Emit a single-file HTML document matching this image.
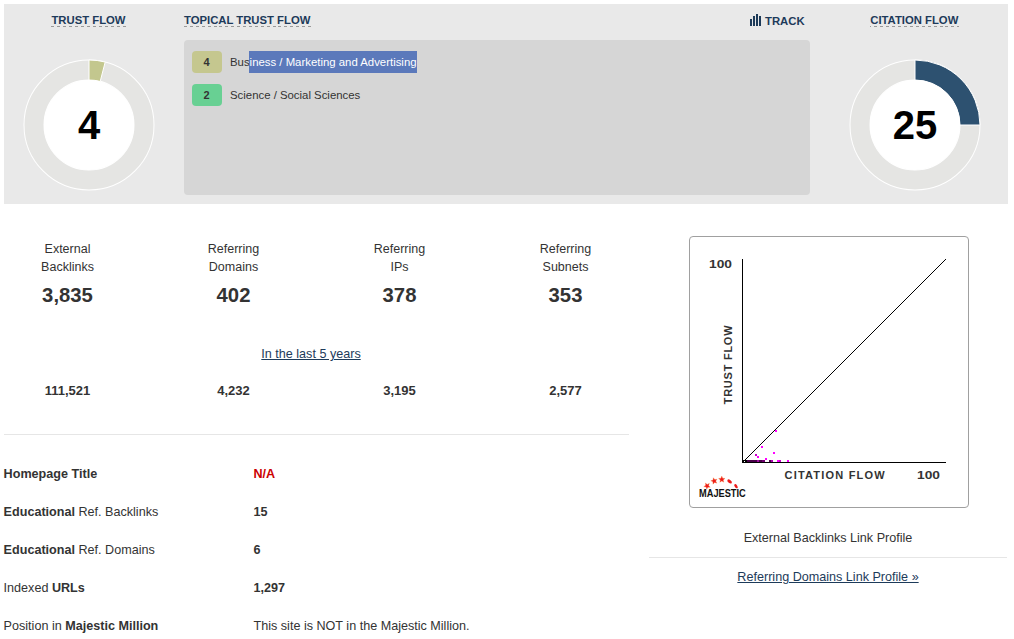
<!DOCTYPE html>
<html><head><meta charset="utf-8">
<style>
html,body{margin:0;padding:0;background:#fff;}
body{width:1014px;height:639px;overflow:hidden;position:relative;font-family:"Liberation Sans",sans-serif;color:#333;}
.a{position:absolute;white-space:nowrap;}
.panel{left:4px;top:4px;width:1004px;height:200px;background:#e9e9e9;}
.hd{font-weight:bold;font-size:11.3px;line-height:11.3px;color:#1d3a5a;}

.ttf{left:184px;top:40px;width:626px;height:155px;background:#d6d6d6;border-radius:4px;}
.badge{width:29.2px;padding-right:0.8px;height:22px;border-radius:4px;font-weight:bold;font-size:11px;line-height:22px;text-align:center;color:#333;}
.topic{font-size:11.38px;line-height:11.3px;color:#333;}
.sel{background:#5b79bb;color:#fff;display:inline-block;height:22px;line-height:22px;vertical-align:top;margin-top:-5.5px;padding-right:0.3px;margin-left:-1px;padding-left:1px;}
.big{font-weight:bold;font-size:40px;line-height:40px;color:#000;text-align:center;}
.lbl{font-size:12.5px;line-height:18px;text-align:center;width:166px;}
.num{font-weight:bold;font-size:20.3px;line-height:20px;text-align:center;width:166px;}
.num2{font-weight:bold;font-size:13px;line-height:13px;text-align:center;width:166px;}
.row{font-size:12.6px;line-height:12.6px;}
.lnk{color:#1d3b5a;text-decoration:underline;}
.ct{font-weight:bold;font-size:11px;line-height:11px;color:#333;letter-spacing:1px;}
.mj{font-weight:bold;font-size:10.4px;line-height:10px;color:#111;letter-spacing:0;transform:scaleX(0.89);transform-origin:0 0;}
.sep{height:1px;background:#e6e6e6;}
</style></head><body>
<div class="a panel"></div>

<!-- headers -->
<svg class="a" style="left:0;top:0;" width="1014" height="30" fill="#999"><rect x="51" y="26" width="3" height="1"/><rect x="57" y="26" width="3" height="1"/><rect x="63" y="26" width="3" height="1"/><rect x="69" y="26" width="3" height="1"/><rect x="75" y="26" width="3" height="1"/><rect x="81" y="26" width="3" height="1"/><rect x="87" y="26" width="3" height="1"/><rect x="93" y="26" width="3" height="1"/><rect x="99" y="26" width="3" height="1"/><rect x="105" y="26" width="3" height="1"/><rect x="111" y="26" width="3" height="1"/><rect x="117" y="26" width="3" height="1"/><rect x="123" y="26" width="3" height="1"/><rect x="184" y="26" width="3" height="1"/><rect x="190" y="26" width="3" height="1"/><rect x="196" y="26" width="3" height="1"/><rect x="202" y="26" width="3" height="1"/><rect x="208" y="26" width="3" height="1"/><rect x="214" y="26" width="3" height="1"/><rect x="219" y="26" width="3" height="1"/><rect x="225" y="26" width="3" height="1"/><rect x="231" y="26" width="3" height="1"/><rect x="237" y="26" width="3" height="1"/><rect x="243" y="26" width="3" height="1"/><rect x="249" y="26" width="3" height="1"/><rect x="255" y="26" width="3" height="1"/><rect x="261" y="26" width="3" height="1"/><rect x="267" y="26" width="3" height="1"/><rect x="273" y="26" width="3" height="1"/><rect x="278" y="26" width="3" height="1"/><rect x="284" y="26" width="3" height="1"/><rect x="290" y="26" width="3" height="1"/><rect x="296" y="26" width="3" height="1"/><rect x="302" y="26" width="3" height="1"/><rect x="308" y="26" width="3" height="1"/><rect x="870" y="26" width="1" height="1"/><rect x="874" y="26" width="3" height="1"/><rect x="880" y="26" width="3" height="1"/><rect x="886" y="26" width="3" height="1"/><rect x="892" y="26" width="3" height="1"/><rect x="898" y="26" width="3" height="1"/><rect x="904" y="26" width="3" height="1"/><rect x="910" y="26" width="3" height="1"/><rect x="916" y="26" width="3" height="1"/><rect x="922" y="26" width="3" height="1"/><rect x="928" y="26" width="3" height="1"/><rect x="934" y="26" width="3" height="1"/><rect x="940" y="26" width="3" height="1"/><rect x="945" y="26" width="3" height="1"/><rect x="951" y="26" width="3" height="1"/><rect x="957" y="26" width="2" height="1"/></svg>
<div class="a hd" style="left:0;width:177px;text-align:center;top:15px;"><span>TRUST FLOW</span></div>
<div class="a hd" style="left:184px;top:15px;"><span>TOPICAL TRUST FLOW</span></div>
<div class="a hd" style="left:765px;top:16px;">TRACK</div>
<svg class="a" style="left:748px;top:12px;" width="16" height="16" viewBox="0 0 16 16">
  <rect x="2" y="7" width="2" height="7" fill="#1d3a58"/>
  <rect x="5" y="4" width="2" height="10" fill="#1d3a58"/>
  <rect x="8" y="2" width="2" height="12" fill="#1d3a58"/>
  <rect x="11" y="4" width="2" height="10" fill="#1d3a58"/>
</svg>
<div class="a hd" style="left:829.3px;width:170px;text-align:center;top:15px;"><span>CITATION FLOW</span></div>

<!-- trust flow donut -->
<svg class="a" style="left:0;top:0;" width="180" height="210">
  <circle cx="89" cy="125" r="55" fill="none" stroke="#fff" stroke-width="21"/>
  <circle cx="89" cy="125" r="55" fill="none" stroke="#e5e5e3" stroke-width="19"/>
  <path d="M89,60 A65,65 0 0 1 105.2,62.05 L100.2,81.4 A45,45 0 0 0 89,80 Z" fill="#c3c78e" stroke="#fff" stroke-width="1"/>
  <circle cx="89" cy="125" r="45" fill="#fff"/>
</svg>
<div class="a big" style="left:39px;width:100px;top:105px;">4</div>

<!-- citation flow donut -->
<svg class="a" style="left:830px;top:0;" width="180" height="210">
  <circle cx="85" cy="125" r="55" fill="none" stroke="#fff" stroke-width="21"/>
  <circle cx="85" cy="125" r="55" fill="none" stroke="#e5e5e3" stroke-width="19"/>
  <path d="M85,60 A65,65 0 0 1 150,125 L130,125 A45,45 0 0 0 85,80 Z" fill="#2d5170" stroke="#fff" stroke-width="1"/>
  <circle cx="85" cy="125" r="45" fill="#fff"/>
</svg>
<div class="a big" style="left:865px;width:100px;top:105px;">25</div>

<!-- topical trust flow box -->
<div class="a ttf"></div>
<div class="a badge" style="left:192px;top:51px;background:#c5c78f;">4</div>
<div class="a topic" style="left:230px;top:56.5px;">Bus<span class="sel">iness / Marketing and Advertising</span></div>
<div class="a badge" style="left:192px;top:84px;background:#68d093;">2</div>
<div class="a topic" style="left:230px;top:90.3px;">Science / Social Sciences</div>

<!-- stats -->
<div class="a lbl" style="left:-15.5px;top:240px;">External<br>Backlinks</div>
<div class="a lbl" style="left:150.5px;top:240px;">Referring<br>Domains</div>
<div class="a lbl" style="left:316.5px;top:240px;">Referring<br>IPs</div>
<div class="a lbl" style="left:482.5px;top:240px;">Referring<br>Subnets</div>

<div class="a num" style="left:-15.5px;top:284.7px;">3,835</div>
<div class="a num" style="left:150.5px;top:284.7px;">402</div>
<div class="a num" style="left:316.5px;top:284.7px;">378</div>
<div class="a num" style="left:482.5px;top:284.7px;">353</div>

<div class="a row lnk" style="left:211px;width:200px;text-align:center;top:348.4px;">In the last 5 years</div>

<div class="a num2" style="left:-15.5px;top:383.6px;">111,521</div>
<div class="a num2" style="left:150.5px;top:383.6px;">4,232</div>
<div class="a num2" style="left:316.5px;top:383.6px;">3,195</div>
<div class="a num2" style="left:482.5px;top:383.6px;">2,577</div>

<div class="a sep" style="left:4px;top:434px;width:625px;"></div>

<div class="a row" style="left:3.6px;top:467.7px;"><b>Homepage Title</b></div>
<div class="a row" style="left:253.5px;top:467.7px;color:#c00;"><b>N/A</b></div>
<div class="a row" style="left:3.6px;top:505.6px;"><b>Educational</b> Ref. Backlinks</div>
<div class="a row" style="left:253.5px;top:505.6px;"><b>15</b></div>
<div class="a row" style="left:3.6px;top:543.6px;"><b>Educational</b> Ref. Domains</div>
<div class="a row" style="left:253.5px;top:543.6px;"><b>6</b></div>
<div class="a row" style="left:3.6px;top:581.6px;">Indexed <b>URLs</b></div>
<div class="a row" style="left:253.5px;top:581.6px;"><b>1,297</b></div>
<div class="a row" style="left:3.6px;top:619.6px;">Position in <b>Majestic Million</b></div>
<div class="a row" style="left:253.5px;top:619.6px;">This site is NOT in the Majestic Million.</div>

<!-- chart -->
<div class="a" style="left:689px;top:236px;width:278px;height:270px;border:1px solid #a0a0a0;border-radius:4px;background:#fff;"></div>
<svg class="a" style="left:689px;top:236px;" width="280" height="272" viewBox="689 236 280 272" shape-rendering="crispEdges">
<rect x="742" y="259" width="1" height="204" fill="#000"/>
<rect x="742" y="462" width="204" height="1" fill="#000"/>
<path d="M743 461h1v1h-1zM744 460h1v1h-1zM745 459h1v1h-1zM746 458h1v1h-1zM747 457h1v1h-1zM748 456h1v1h-1zM749 455h1v1h-1zM750 454h1v1h-1zM751 453h1v1h-1zM752 452h1v1h-1zM753 451h1v1h-1zM754 450h1v1h-1zM755 449h1v1h-1zM756 448h1v1h-1zM757 447h1v1h-1zM758 446h1v1h-1zM759 445h1v1h-1zM760 444h1v1h-1zM761 443h1v1h-1zM762 442h1v1h-1zM763 441h1v1h-1zM764 440h1v1h-1zM765 439h1v1h-1zM766 438h1v1h-1zM767 437h1v1h-1zM768 436h1v1h-1zM769 435h1v1h-1zM770 434h1v1h-1zM771 433h1v1h-1zM772 432h1v1h-1zM773 431h1v1h-1zM774 430h1v1h-1zM775 429h1v1h-1zM776 428h1v1h-1zM777 427h1v1h-1zM778 426h1v1h-1zM779 425h1v1h-1zM780 424h1v1h-1zM781 423h1v1h-1zM782 422h1v1h-1zM783 421h1v1h-1zM784 420h1v1h-1zM785 419h1v1h-1zM786 418h1v1h-1zM787 417h1v1h-1zM788 416h1v1h-1zM789 415h1v1h-1zM790 414h1v1h-1zM791 413h1v1h-1zM792 412h1v1h-1zM793 411h1v1h-1zM794 410h1v1h-1zM795 409h1v1h-1zM796 408h1v1h-1zM797 407h1v1h-1zM798 406h1v1h-1zM799 405h1v1h-1zM800 404h1v1h-1zM801 403h1v1h-1zM802 402h1v1h-1zM803 401h1v1h-1zM804 400h1v1h-1zM805 399h1v1h-1zM806 398h1v1h-1zM807 397h1v1h-1zM808 396h1v1h-1zM809 395h1v1h-1zM810 394h1v1h-1zM811 393h1v1h-1zM812 392h1v1h-1zM813 391h1v1h-1zM814 390h1v1h-1zM815 389h1v1h-1zM816 388h1v1h-1zM817 387h1v1h-1zM818 386h1v1h-1zM819 385h1v1h-1zM820 384h1v1h-1zM821 383h1v1h-1zM822 382h1v1h-1zM823 381h1v1h-1zM824 380h1v1h-1zM825 379h1v1h-1zM826 378h1v1h-1zM827 377h1v1h-1zM828 376h1v1h-1zM829 375h1v1h-1zM830 374h1v1h-1zM831 373h1v1h-1zM832 372h1v1h-1zM833 371h1v1h-1zM834 370h1v1h-1zM835 369h1v1h-1zM836 368h1v1h-1zM837 367h1v1h-1zM838 366h1v1h-1zM839 365h1v1h-1zM840 364h1v1h-1zM841 363h1v1h-1zM842 362h1v1h-1zM843 361h1v1h-1zM844 360h1v1h-1zM845 359h1v1h-1zM846 358h1v1h-1zM847 357h1v1h-1zM848 356h1v1h-1zM849 355h1v1h-1zM850 354h1v1h-1zM851 353h1v1h-1zM852 352h1v1h-1zM853 351h1v1h-1zM854 350h1v1h-1zM855 349h1v1h-1zM856 348h1v1h-1zM857 347h1v1h-1zM858 346h1v1h-1zM859 345h1v1h-1zM860 344h1v1h-1zM861 343h1v1h-1zM862 342h1v1h-1zM863 341h1v1h-1zM864 340h1v1h-1zM865 339h1v1h-1zM866 338h1v1h-1zM867 337h1v1h-1zM868 336h1v1h-1zM869 335h1v1h-1zM870 334h1v1h-1zM871 333h1v1h-1zM872 332h1v1h-1zM873 331h1v1h-1zM874 330h1v1h-1zM875 329h1v1h-1zM876 328h1v1h-1zM877 327h1v1h-1zM878 326h1v1h-1zM879 325h1v1h-1zM880 324h1v1h-1zM881 323h1v1h-1zM882 322h1v1h-1zM883 321h1v1h-1zM884 320h1v1h-1zM885 319h1v1h-1zM886 318h1v1h-1zM887 317h1v1h-1zM888 316h1v1h-1zM889 315h1v1h-1zM890 314h1v1h-1zM891 313h1v1h-1zM892 312h1v1h-1zM893 311h1v1h-1zM894 310h1v1h-1zM895 309h1v1h-1zM896 308h1v1h-1zM897 307h1v1h-1zM898 306h1v1h-1zM899 305h1v1h-1zM900 304h1v1h-1zM901 303h1v1h-1zM902 302h1v1h-1zM903 301h1v1h-1zM904 300h1v1h-1zM905 299h1v1h-1zM906 298h1v1h-1zM907 297h1v1h-1zM908 296h1v1h-1zM909 295h1v1h-1zM910 294h1v1h-1zM911 293h1v1h-1zM912 292h1v1h-1zM913 291h1v1h-1zM914 290h1v1h-1zM915 289h1v1h-1zM916 288h1v1h-1zM917 287h1v1h-1zM918 286h1v1h-1zM919 285h1v1h-1zM920 284h1v1h-1zM921 283h1v1h-1zM922 282h1v1h-1zM923 281h1v1h-1zM924 280h1v1h-1zM925 279h1v1h-1zM926 278h1v1h-1zM927 277h1v1h-1zM928 276h1v1h-1zM929 275h1v1h-1zM930 274h1v1h-1zM931 273h1v1h-1zM932 272h1v1h-1zM933 271h1v1h-1zM934 270h1v1h-1zM935 269h1v1h-1zM936 268h1v1h-1zM937 267h1v1h-1zM938 266h1v1h-1zM939 265h1v1h-1zM940 264h1v1h-1zM941 263h1v1h-1zM942 262h1v1h-1zM943 261h1v1h-1zM944 260h1v1h-1zM945 259h1v1h-1z" fill="#000"/>
<rect x="747" y="460" width="10" height="2" fill="#4a004a"/>
<rect x="757" y="460" width="2" height="2" fill="#a010a0"/>
<rect x="759" y="460" width="3" height="2" fill="#4a004a"/>
<rect x="762" y="460" width="3" height="2" fill="#700070"/>
<rect x="769" y="460" width="2" height="2" fill="#500050"/>
<rect x="771" y="460" width="2" height="2" fill="#b000b0"/>
<rect x="777" y="460" width="2" height="2" fill="#ff00ff"/>
<rect x="779" y="460" width="2" height="2" fill="#d000d0"/>
<rect x="787" y="460" width="2" height="2" fill="#ff00ff"/>
<rect x="743" y="460" width="4" height="2" fill="#000"/>
<rect x="744" y="461" width="1" height="1" fill="#fff"/>
<rect x="775" y="430" width="2" height="2" fill="#ff00ff"/>
<rect x="761" y="446" width="2" height="2" fill="#ff00ff"/>
<rect x="773" y="452" width="2" height="2" fill="#ff00ff"/>
<rect x="755" y="454" width="2" height="2" fill="#c800c8"/>
<rect x="757" y="456" width="2" height="2" fill="#ff00ff"/>
<rect x="765" y="458" width="2" height="2" fill="#ff00ff"/>
<g shape-rendering="auto"><polygon points="705.40,482.96 707.26,484.38 709.38,483.37 708.60,485.58 710.21,487.28 707.87,487.23 706.74,489.28 706.08,487.04 703.77,486.61 705.70,485.28" fill="#ec1b1b" stroke="#ff8a3a" stroke-width="0.6" stroke-opacity="0.5"/><polygon points="713.32,477.72 714.75,479.57 717.05,479.15 715.73,481.08 716.84,483.14 714.60,482.48 712.98,484.17 712.92,481.83 710.80,480.82 713.01,480.04" fill="#ec1b1b" stroke="#ff8a3a" stroke-width="0.6" stroke-opacity="0.5"/><polygon points="721.80,476.10 722.70,478.26 725.03,478.45 723.26,479.97 723.80,482.25 721.80,481.03 719.80,482.25 720.34,479.97 718.57,478.45 720.90,478.26" fill="#ec1b1b" stroke="#ff8a3a" stroke-width="0.6" stroke-opacity="0.5"/><ellipse cx="729.6" cy="481.4" rx="2.6" ry="1.5" transform="rotate(35 729.6 481.4)" fill="#ec1b1b"/><ellipse cx="736" cy="486.2" rx="2.4" ry="1.3" transform="rotate(55 736 486.2)" fill="#ec1b1b"/></g>
</svg>
<div class="a ct" style="left:709px;top:259px;letter-spacing:0;transform:scaleX(1.25);transform-origin:0 0;">100</div>
<div class="a ct" style="left:916.5px;top:470px;letter-spacing:0;transform:scaleX(1.25);transform-origin:0 0;">100</div>
<div class="a ct" style="left:784.5px;top:470px;letter-spacing:1.2px;">CITATION FLOW</div>
<div class="a ct" style="left:687.5px;top:358.5px;transform:rotate(-90deg);transform-origin:50% 50%;width:80px;text-align:center;letter-spacing:0.75px;">TRUST FLOW</div>
<div class="a mj" style="left:699px;top:489px;">MAJESTIC</div>


<div class="a row" style="left:728px;width:200px;text-align:center;top:531.6px;">External Backlinks Link Profile</div>
<div class="a sep" style="left:649px;top:557px;width:358px;"></div>
<div class="a row lnk" style="left:728px;width:200px;text-align:center;top:571px;">Referring Domains Link Profile »</div>

</body></html>
